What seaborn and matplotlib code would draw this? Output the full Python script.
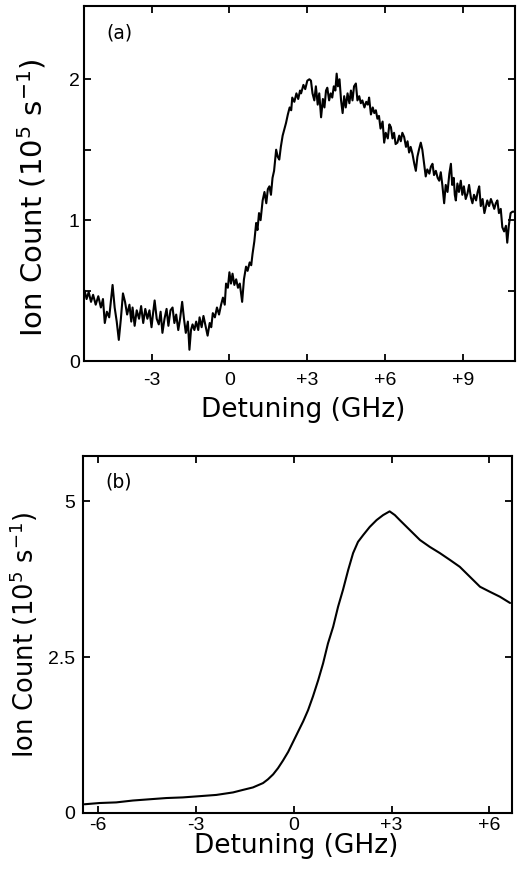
import matplotlib
matplotlib.use("Agg")
import matplotlib.pyplot as plt
import seaborn as sns
import pandas as pd

# Panel (a): noisy ion count vs detuning
detuning_a = [-5.58, -5.5, -5.42, -5.33, -5.25, -5.15, -5.05, -4.95, -4.87, -4.8,
              -4.72, -4.63, -4.55, -4.5, -4.42, -4.34, -4.26, -4.18, -4.1, -4.02,
              -3.94, -3.85, -3.78, -3.73, -3.65, -3.57, -3.48, -3.4, -3.32, -3.24,
              -3.16, -3.08, -3.0, -2.94, -2.88, -2.8, -2.72, -2.65, -2.58, -2.5,
              -2.42, -2.35, -2.27, -2.19, -2.12, -2.05, -1.97, -1.9, -1.82, -1.75,
              -1.68, -1.6, -1.54, -1.48, -1.42, -1.35, -1.28, -1.2, -1.15, -1.07,
              -1.0, -0.92, -0.84, -0.76, -0.7, -0.64, -0.56, -0.48, -0.4, -0.32,
              -0.25, -0.18, -0.13, -0.06, 0.0, 0.06, 0.12, 0.19, 0.26, 0.33,
              0.4, 0.49, 0.56, 0.64, 0.7, 0.78, 0.84, 0.89, 0.96, 1.03,
              1.08, 1.14, 1.2, 1.28, 1.35, 1.42, 1.48, 1.54, 1.6, 1.66,
              1.72, 1.8, 1.86, 1.92, 1.98, 2.05, 2.12, 2.18, 2.25, 2.32,
              2.38, 2.42, 2.5, 2.58, 2.65, 2.72, 2.76, 2.85, 2.92, 3.0,
              3.08, 3.14, 3.2, 3.27, 3.33, 3.4, 3.46, 3.53, 3.6, 3.66,
              3.72, 3.77, 3.84, 3.9, 3.96, 4.02, 4.08, 4.13, 4.18, 4.24,
              4.3, 4.36, 4.42, 4.48, 4.55, 4.62, 4.68, 4.74, 4.8, 4.87,
              4.93, 5.0, 5.06, 5.12, 5.2, 5.27, 5.33, 5.38, 5.45, 5.52,
              5.58, 5.64, 5.7, 5.76, 5.82, 5.9, 5.96, 6.02, 6.1, 6.16,
              6.22, 6.28, 6.34, 6.4, 6.47, 6.54, 6.6, 6.66, 6.73, 6.8,
              6.86, 6.92, 6.98, 7.05, 7.12, 7.18, 7.24, 7.3, 7.37, 7.43,
              7.5, 7.56, 7.62, 7.7, 7.76, 7.82, 7.88, 7.95, 8.02, 8.08,
              8.14, 8.2, 8.27, 8.33, 8.4, 8.47, 8.53, 8.58, 8.64, 8.68,
              8.72, 8.78, 8.84, 8.91, 8.97, 9.03, 9.1, 9.17, 9.23, 9.3,
              9.36, 9.42, 9.5, 9.56, 9.62, 9.68, 9.75, 9.82, 9.87, 9.93,
              10.0, 10.07, 10.13, 10.2, 10.26, 10.32, 10.38, 10.45, 10.51, 10.58,
              10.65, 10.7, 10.76, 10.83, 10.9, 10.96]
counts_a = [0.50, 0.44, 0.49, 0.42, 0.47, 0.40, 0.46, 0.38, 0.44, 0.27,
            0.35, 0.31, 0.45, 0.54, 0.38, 0.28, 0.15, 0.30, 0.48, 0.42,
            0.33, 0.40, 0.28, 0.38, 0.25, 0.36, 0.30, 0.39, 0.27, 0.37,
            0.30, 0.36, 0.24, 0.34, 0.43, 0.30, 0.26, 0.35, 0.20, 0.30,
            0.37, 0.25, 0.36, 0.38, 0.27, 0.33, 0.22, 0.30, 0.42, 0.30,
            0.20, 0.28, 0.08, 0.22, 0.26, 0.22, 0.28, 0.22, 0.31, 0.24,
            0.32, 0.25, 0.18, 0.27, 0.24, 0.34, 0.31, 0.38, 0.33, 0.40,
            0.45, 0.40, 0.55, 0.52, 0.63, 0.55, 0.62, 0.54, 0.58, 0.52,
            0.55, 0.42, 0.58, 0.67, 0.64, 0.70, 0.68, 0.76, 0.85, 0.98,
            0.93, 1.05, 1.00, 1.14, 1.20, 1.12, 1.22, 1.24, 1.18, 1.30,
            1.35, 1.50, 1.45, 1.43, 1.52, 1.60, 1.65, 1.69, 1.75, 1.80,
            1.78, 1.87, 1.84, 1.90, 1.86, 1.92, 1.90, 1.96, 1.93, 1.99,
            2.00, 1.99, 1.90, 1.85, 1.95, 1.82, 1.90, 1.73, 1.86, 1.80,
            1.92, 1.94, 1.85, 1.90, 1.87, 1.95, 1.92, 2.04, 1.95, 2.00,
            1.85, 1.76, 1.88, 1.80, 1.90, 1.83, 1.92, 1.85, 1.95, 1.97,
            1.85, 1.88, 1.83, 1.85, 1.80, 1.84, 1.82, 1.87, 1.75, 1.80,
            1.76, 1.78, 1.72, 1.74, 1.65, 1.70, 1.55, 1.62, 1.58, 1.68,
            1.66, 1.58, 1.62, 1.54, 1.55, 1.60, 1.56, 1.62, 1.59, 1.52,
            1.56, 1.48, 1.52, 1.47, 1.40, 1.35, 1.45, 1.50, 1.55, 1.50,
            1.40, 1.31, 1.36, 1.33, 1.38, 1.40, 1.32, 1.35, 1.30, 1.28,
            1.34, 1.25, 1.12, 1.25, 1.20, 1.33, 1.40, 1.25, 1.30, 1.18,
            1.14, 1.26, 1.20, 1.28, 1.18, 1.24, 1.15, 1.19, 1.25, 1.16,
            1.12, 1.18, 1.14, 1.20, 1.24, 1.10, 1.15, 1.05, 1.09, 1.14,
            1.10, 1.15, 1.12, 1.08, 1.12, 1.14, 1.05, 1.08, 0.95, 0.92,
            0.96, 0.84, 0.96, 1.05, 1.06, 1.06]

# Panel (b): smooth ion count vs detuning
detuning_b = [-6.41, -5.95, -5.44, -4.93, -4.42, -3.90, -3.40, -2.88, -2.37, -1.86,
              -1.56, -1.25, -0.94, -0.79, -0.63, -0.48, -0.33, -0.17, -0.02, 0.13,
              0.29, 0.44, 0.59, 0.75, 0.90, 1.05, 1.21, 1.36, 1.51, 1.67,
              1.82, 1.97, 2.13, 2.33, 2.54, 2.74, 2.94, 3.10, 3.25, 3.56,
              3.87, 4.17, 4.48, 4.79, 5.09, 5.40, 5.71, 6.01, 6.32, 6.63]
counts_b = [0.14, 0.16, 0.17, 0.20, 0.22, 0.24, 0.25, 0.27, 0.29, 0.33,
            0.37, 0.41, 0.48, 0.54, 0.62, 0.72, 0.84, 0.98, 1.14, 1.30,
            1.47, 1.65, 1.87, 2.13, 2.40, 2.72, 2.99, 3.31, 3.58, 3.90,
            4.17, 4.35, 4.46, 4.59, 4.70, 4.78, 4.84, 4.78, 4.70, 4.54,
            4.38, 4.27, 4.17, 4.06, 3.95, 3.79, 3.63, 3.55, 3.47, 3.37]

xticks_a = [-3, 0, 3, 6, 9]
xticklabels_a = ["-3", "0", "+3", "+6", "+9"]
yticks_a = [0, 0.5, 1, 1.5, 2]
yticklabels_a = ["0", "", "1", "", "2"]
xticks_b = [-6, -3, 0, 3, 6]
xticklabels_b = ["-6", "-3", "0", "+3", "+6"]
yticks_b = [0, 2.5, 5]
yticklabels_b = ["0", "2.5", "5"]

sns.set_theme(style="ticks")
plt.rcParams["font.family"] = ["Liberation Sans", "DejaVu Sans"]
plt.rcParams["mathtext.fontset"] = "dejavusans"
plt.rcParams["text.color"] = "black"
plt.rcParams["axes.labelcolor"] = "black"

label_font = ["DejaVu Sans"]

fig = plt.figure(figsize=(5.17, 8.71), dpi=100)
ax_a = fig.add_axes([0.1625, 0.5855, 0.8337, 0.4076])
ax_b = fig.add_axes([0.161, 0.0666, 0.8287, 0.41])

df_a = pd.DataFrame({"detuning": detuning_a, "count": counts_a})
df_b = pd.DataFrame({"detuning": detuning_b, "count": counts_b})
sns.lineplot(data=df_a, x="detuning", y="count", ax=ax_a, color="black", lw=1.5,
             estimator=None, sort=False)
sns.lineplot(data=df_b, x="detuning", y="count", ax=ax_b, color="black", lw=1.5,
             estimator=None, sort=False)

ylabel = "Ion Count (10$^{5}$ s$^{-1}$)"
for ax in (ax_a, ax_b):
    for s in ax.spines.values():
        s.set_visible(True)
        s.set_linewidth(1.5)
        s.set_color("black")
    ax.tick_params(direction="in", top=True, right=True, length=5, width=1.3,
                   labelsize=14, colors="black")
    ax.set_xlabel("Detuning (GHz)", fontsize=19, family=label_font, color="black")

ax_a.set_xlim(-5.6, 11.0)
ax_a.set_ylim(0, 2.52)
ax_a.set_xticks(xticks_a, xticklabels_a)
ax_a.set_yticks(yticks_a, yticklabels_a)
ax_a.tick_params(axis="x", pad=8)
ax_a.tick_params(axis="y", pad=3)
ax_a.set_ylabel(ylabel, fontsize=21, family=label_font, color="black")
ax_a.yaxis.set_label_coords(-0.083, 0.459)
ax_a.xaxis.set_label_coords(0.508, -0.102)
ax_a.text(0.053, 0.924, "(a)", transform=ax_a.transAxes, fontsize=13.5,
          family=label_font, ha="left", va="center", color="black")

ax_b.set_xlim(-6.45, 6.68)
ax_b.set_ylim(0, 5.73)
ax_b.set_xticks(xticks_b, xticklabels_b)
ax_b.set_yticks(yticks_b, yticklabels_b)
ax_b.tick_params(axis="x", pad=3)
ax_b.tick_params(axis="y", pad=6)
ax_b.set_ylabel(ylabel, fontsize=18.5, family=label_font, color="black")
ax_b.yaxis.set_label_coords(-0.100, 0.499)
ax_b.xaxis.set_label_coords(0.497, -0.056)
ax_b.text(0.051, 0.927, "(b)", transform=ax_b.transAxes, fontsize=13.5,
          family=label_font, ha="left", va="center", color="black")

fig.savefig("out.png", dpi=100)
